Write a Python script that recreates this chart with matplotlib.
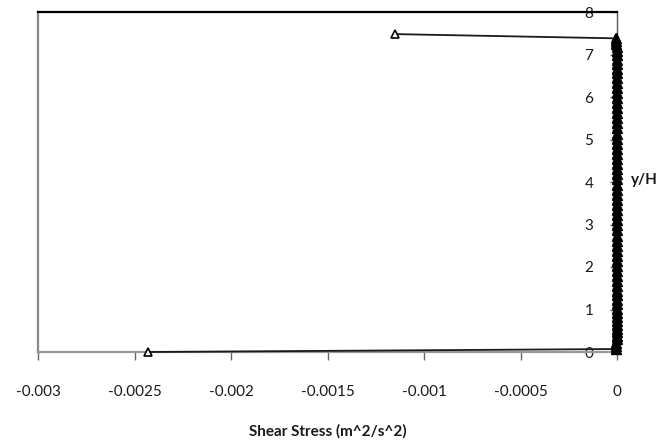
import matplotlib
matplotlib.use("Agg")
import matplotlib.pyplot as plt

# shear stress profile across the channel height
y_over_h = [0.0, 0.07, 0.14, 0.22, 0.30, 0.38, 0.46, 0.55, 0.64, 0.73,
            0.82, 0.92, 1.02, 1.12, 1.22, 1.33, 1.44, 1.55, 1.66, 1.78,
            1.90, 2.02, 2.14, 2.26, 2.38, 2.50, 2.62, 2.74, 2.86, 2.98,
            3.10, 3.22, 3.34, 3.46, 3.58, 3.70, 3.82, 3.94, 4.06, 4.18,
            4.30, 4.42, 4.54, 4.66, 4.78, 4.90, 5.02, 5.14, 5.26, 5.38,
            5.50, 5.62, 5.74, 5.86, 5.98, 6.10, 6.22, 6.34, 6.45, 6.56,
            6.67, 6.78, 6.88, 6.98, 7.08, 7.17, 7.25, 7.32, 7.38, 7.48]
shear = [-0.00243, -0.000004, -0.000003, -0.000003, -0.000002, -0.000002,
         -0.000002, -0.000002, -0.000001, -0.000001, -0.000001, -0.000001,
         -0.000001, -0.000001, -0.000001, -0.000001, -0.000001, -0.000001,
         -0.000001, -0.000001, -0.000001, -0.000001, -0.000001, -0.000001,
         -0.000001, -0.000001, -0.000001, -0.000001, -0.000001, -0.000001,
         -0.000001, -0.000001, -0.000001, -0.000001, -0.000001, -0.000001,
         -0.000001, -0.000001, -0.000001, -0.000001, -0.000001, -0.000001,
         -0.000001, -0.000001, -0.000001, -0.000001, -0.000001, -0.000001,
         -0.000001, -0.000001, -0.000001, -0.000001, -0.000001, -0.000001,
         -0.000001, -0.000001, -0.000001, -0.000001, -0.000001, -0.000001,
         -0.000001, -0.000001, -0.000002, -0.000002, -0.000002, -0.000002,
         -0.000003, -0.000003, -0.000004, -0.00115]

x_ticks = [-0.003, -0.0025, -0.002, -0.0015, -0.001, -0.0005, 0]
x_labels = ["-0.003", "-0.0025", "-0.002", "-0.0015", "-0.001", "-0.0005", "0"]
y_ticks = [0, 1, 2, 3, 4, 5, 6, 7, 8]

plt.rcParams["font.family"] = ["Lato", "DejaVu Sans"]

fig = plt.figure(figsize=(6.69, 4.46), dpi=100)
ax = fig.add_axes([38 / 669, 94 / 446, 579 / 669, 340 / 446])

ax.plot(shear, y_over_h, color="#1a1a1a", lw=1.3, marker="^", ms=6,
        mfc="white", mec="black", mew=1.2, zorder=3, clip_on=False)
# near-wall points pile up into a solid band
ax.plot(shear[1:-1], y_over_h[1:-1], ls="none", marker="^", ms=7,
        mfc="black", mec="black", mew=1.0, zorder=4, clip_on=False)

ax.set_xlim(-0.003, 0)
ax.set_ylim(0, 8)

# y axis sits at x = 0 with its labels inside the plot
ax.spines["left"].set_position(("data", 0))
ax.spines["left"].set_color("#555555")
ax.spines["left"].set_linewidth(1.0)
ax.spines["right"].set_position(("axes", 0))
ax.spines["right"].set_color("#888888")
ax.spines["right"].set_linewidth(1.6)
ax.spines["top"].set_color("black")
ax.spines["top"].set_linewidth(1.6)
ax.spines["bottom"].set_color("#999999")
ax.spines["bottom"].set_linewidth(1.6)

ax.set_xticks(x_ticks)
ax.set_xticklabels(x_labels)
ax.set_yticks(y_ticks)
ax.tick_params(axis="x", direction="out", length=6, width=1, color="#666666",
               pad=18, labelsize=11, labelcolor="#1a1a1a")
ax.tick_params(axis="y", direction="out", length=5, width=1, color="#666666",
               pad=12, labelsize=11, labelcolor="#1a1a1a")

ax.set_xlabel("Shear Stress (m^2/s^2)", fontsize=11, fontweight="bold",
              color="#1a1a1a", labelpad=18)
ax.text(1.024, 0.506, "y/H", transform=ax.transAxes, fontsize=11,
        fontweight="bold", color="#1a1a1a", va="center", ha="left")

fig.savefig("out.png", dpi=100)
